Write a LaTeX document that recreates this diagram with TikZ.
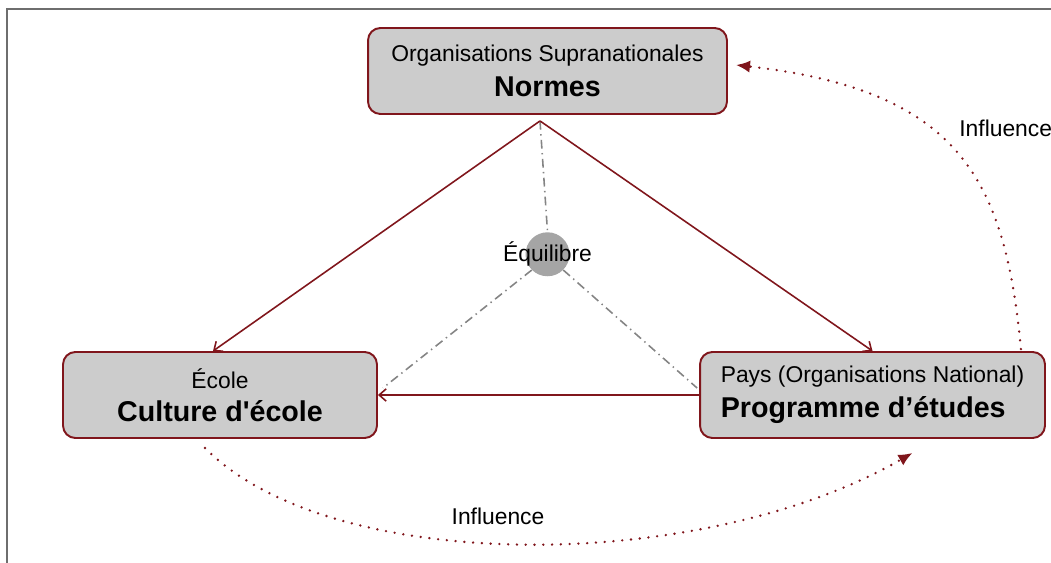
\documentclass[tikz,border=0pt]{standalone}
\usepackage{fontspec}
\setmainfont{Liberation Sans}
\usepackage{tikz}
\usetikzlibrary{positioning,calc,shapes,arrows,arrows.meta}

\definecolor{boxred}{RGB}{128,22,28}
\definecolor{boxgray}{RGB}{204,204,204}
\definecolor{eqgray}{RGB}{165,165,165}
\definecolor{framegray}{RGB}{110,110,110}

\newcommand{\smalltxt}{\fontsize{13}{15}\selectfont}
\newcommand{\bigtxt}{\fontsize{16.3}{19}\selectfont\bfseries}

\begin{document}
\begin{tikzpicture}[x=0.02cm,y=-0.02cm,
  level/.style={draw=boxred,line width=1.1pt,fill=boxgray,rounded corners=7pt,
    minimum height=1.72cm,inner sep=2pt},
  link/.style={boxred,line width=0.9pt,-{Straight Barb[length=4pt,width=7pt]}},
  balance/.style={eqgray!80!black,line width=0.9pt,dash pattern=on 5pt off 2.5pt on 0.8pt off 2.5pt},
  infl/.style={boxred,line width=1.5pt,line cap=round,dash pattern=on 0pt off 5pt,
    -{Latex[length=8pt,width=7pt]}}]
\useasboundingbox (0,0) rectangle (1051,563);
% frame
\draw[framegray,line width=0.9pt] (7,563) -- (7,9) -- (1051,9);
% nodes
\node[level,minimum width=7.18cm,align=center] (top) at (547.5,71)
  {\smalltxt Organisations Supranationales\\[5pt] \bigtxt Normes};
\node[level,minimum width=6.28cm,align=center] (left) at (220,395)
  {\smalltxt École\\[6pt] \bigtxt Culture d\textquotesingle école};
\node[level,minimum width=6.9cm,align=left] (right) at (872.5,395)
  {\smalltxt Pays (Organisations National)\\[4pt] \bigtxt Programme d’études};
\node[circle,fill=eqgray,minimum size=0.88cm,inner sep=0pt] (eq) [below=2.34cm of top] {};
\node (eqtext) at (eq.center) {\smalltxt Équilibre};
\coordinate (apex) at ([xshift=-0.15cm,yshift=-0.12cm]top.south);
% the arrows and labels
\draw[balance] (apex) -- (eq.north);
\draw[balance] (eq.south west) -- ([xshift=0.1cm,yshift=0.14cm]left.east);
\draw[balance] (eq.south east) -- ([xshift=-0.04cm,yshift=0.14cm]right.west);
\draw[link] (apex) -- ([xshift=-0.14cm]left.north);
\draw[link] (apex) -- (right.north);
\draw[link] (right.west) -- (left.east);
\draw[infl] ([xshift=-0.3cm,yshift=-0.18cm]left.south) .. controls (330,575) and (700,575) .. ([xshift=0.8cm,yshift=-0.28cm]right.south);
\draw[infl] ([xshift=-0.5cm,yshift=0.04cm]right.north east) .. controls (1005,180) and (960,90) .. ([xshift=0.16cm,yshift=0.12cm]top.east);
\node (inflB) at (498,516) {\smalltxt Influence};
\node[anchor=west,inner sep=0pt] (inflR) at (959,128) {\smalltxt Influence};
\end{tikzpicture}
\end{document}
